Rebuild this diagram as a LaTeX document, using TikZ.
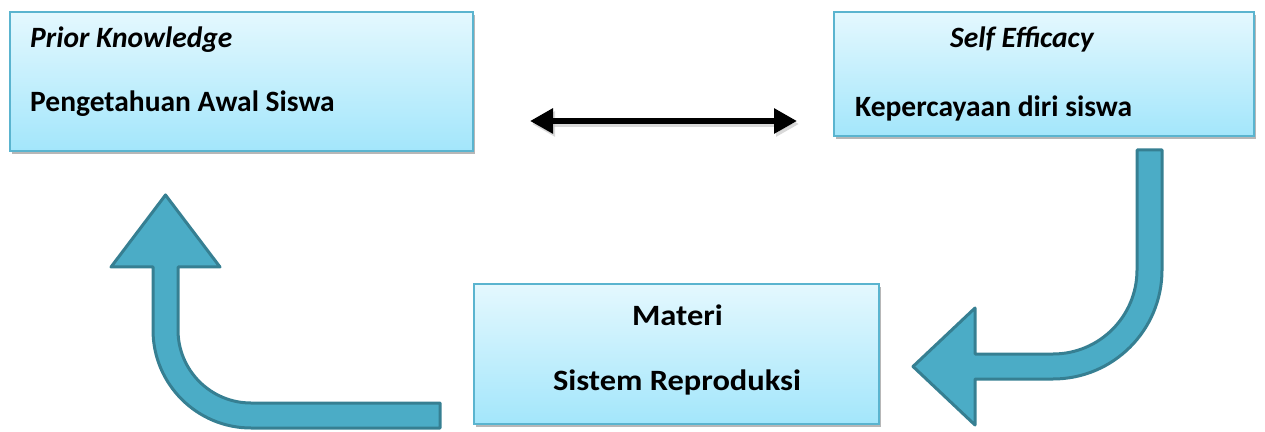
\documentclass[tikz,border=0pt]{standalone}
\usepackage{fontspec}
\setmainfont{Carlito}
\usetikzlibrary{shadows,arrows.meta}
\definecolor{arrfill}{HTML}{4BACC6}
\definecolor{arrline}{HTML}{367F92}
\definecolor{boxtop}{HTML}{E4F8FE}
\definecolor{boxbot}{HTML}{A3E6FB}
\definecolor{boxline}{HTML}{5AB4CF}
\tikzset{
  box/.style={rectangle, draw=boxline, line width=1.5pt, top color=boxtop, bottom color=boxbot, inner sep=0pt,
    drop shadow={shadow xshift=2pt, shadow yshift=-3pt, opacity=0.4, fill=black!70}},
  lbl/.style={font=\fontsize{29.5}{35}\selectfont\bfseries, inner sep=0pt},
  widelbl/.style={lbl, xscale=1.1, transform shape},
  bent/.style={fill=arrfill, draw=arrline, line width=3pt, line join=round},
  dbl/.style={line width=6.5pt, {Triangle[length=23pt,width=24pt]}-{Triangle[length=23pt,width=24pt]}}
}
\begin{document}
\begin{tikzpicture}[x=1pt,y=1pt]
\useasboundingbox (0,0) rectangle (1265,431);
% boxes
\node[box, minimum width=463pt, minimum height=139pt] (pk) at (241.5,349.5) {};
\node[box, minimum width=420pt, minimum height=124pt] (se) at (1044,357) {};
\node[box, minimum width=405pt, minimum height=140pt] (mt) at (676.5,77) {};
% texts
\node[lbl, anchor=base west] (pkt) at (30,383) {\itshape Prior Knowledge};
\node[lbl, anchor=base west] (pks) at (30,319) {Pengetahuan Awal Siswa};
\node[lbl, anchor=base west] (set) at (950,383) {\itshape Self Efficacy};
\node[lbl, anchor=base west] (ses) at (855,314) {Kepercayaan diri siswa};
\node[widelbl, anchor=base] (mtt) at (677.5,105.5) {Materi};
\node[widelbl, anchor=base] (mts) at (677,41) {Sistem Reproduksi};
% double arrow
\coordinate (dl) at (530,310);
\coordinate (dr) at (797,310);
\draw[dbl, black!25, opacity=0.6] ([shift={(2pt,-3pt)}]dl) -- ([shift={(2pt,-3pt)}]dr);
\draw[dbl] (dl) -- (dr);
% bent arrow right (Self Efficacy -> Materi)
\draw[bent] (1137,281) -- (1162,281) -- (1162,161)
  arc[start angle=0, end angle=-90, radius=109pt] -- (975,52) -- (975,6) -- (913,64.5)
  -- (975,123) -- (975,77) -- (1053,77)
  arc[start angle=-90, end angle=0, radius=84pt] -- cycle;
% bent arrow left (Materi -> Prior Knowledge)
\draw[bent] (440,3) -- (440,28) -- (251,28)
  arc[start angle=-90, end angle=-180, radius=73pt] -- (178,164) -- (220,164)
  -- (165.5,236) -- (111,164) -- (153,164) -- (153,101)
  arc[start angle=180, end angle=270, radius=98pt] -- cycle;
\end{tikzpicture}
\end{document}
